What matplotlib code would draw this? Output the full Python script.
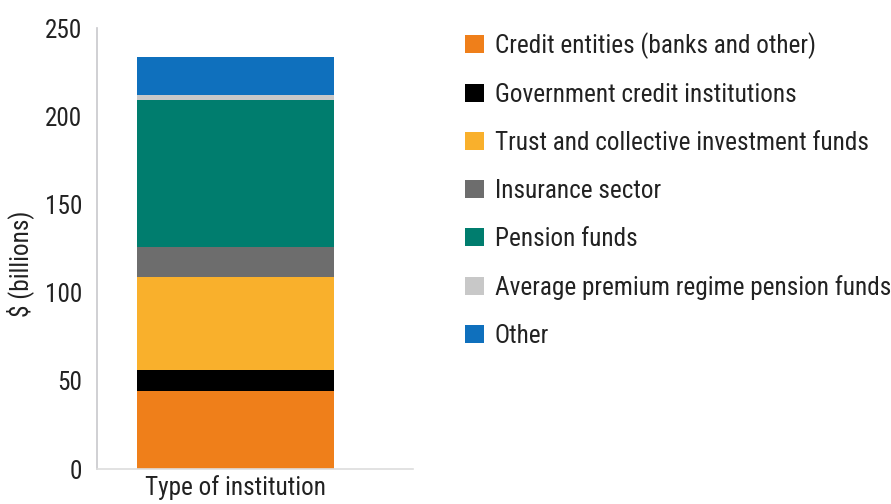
import matplotlib
matplotlib.use("Agg")
import matplotlib.pyplot as plt
from matplotlib import font_manager as fm
from matplotlib.patches import Patch

category = "Type of institution"
segments = [
    "Credit entities (banks and other)",
    "Government credit institutions",
    "Trust and collective investment funds",
    "Insurance sector",
    "Pension funds",
    "Average premium regime pension funds",
    "Other",
]
values = [44.4, 11.7, 52.6, 17.3, 83.2, 2.8, 21.7]
colors = ["#EF7F1A", "#000000", "#F9B02C", "#6D6D6D", "#007D6E", "#C8C8C8", "#0F70BD"]


def pick_font():
    # prefer a narrow sans face if one is installed
    cands = []
    for f in fm.fontManager.ttflist:
        narrow = ('Narrow' in f.name or 'Condensed' in f.name
                  or 'ondensed' in f.fname or f.stretch in ('condensed', 'semi-condensed'))
        if narrow and f.style == 'normal' and f.weight in (400, 'normal', 'regular'):
            cands.append(f)
    order = ['Liberation Sans Narrow', 'Roboto Condensed', 'Open Sans Condensed',
             'Noto Sans', 'DejaVu Sans']
    cands.sort(key=lambda f: next((i for i, n in enumerate(order) if n in f.name), 99))
    if cands:
        return fm.FontProperties(fname=cands[0].fname), True
    return fm.FontProperties(family='Liberation Sans'), False


base, is_narrow = pick_font()
size = 18.2 if is_narrow else 15


def fp(s=size):
    p = base.copy()
    p.set_size(s)
    return p


fig = plt.figure(figsize=(8.91, 5.04), dpi=100)
ax = fig.add_axes([0.1089, 0.0694, 0.3546, 0.875])

bottom = 0
for val, col in zip(values, colors):
    ax.bar(0, val, width=1.0, bottom=bottom, color=col, linewidth=0)
    bottom += val

ax.set_xlim(-0.703, 0.901)
ax.set_ylim(0, 250)
ax.set_yticks([0, 50, 100, 150, 200, 250])
ax.set_xticks([0])
ax.set_xticklabels([category])
ax.tick_params(axis='both', length=0, colors='#222222')
ax.tick_params(axis='y', pad=10.5)
ax.tick_params(axis='x', pad=4.5)
for lbl in ax.get_xticklabels() + ax.get_yticklabels():
    lbl.set_fontproperties(fp())
ax.set_ylabel("$ (billions)", fontproperties=fp(), color='#222222')
ax.yaxis.set_label_coords(-0.198, 0.465)

for side in ('top', 'right'):
    ax.spines[side].set_visible(False)
ax.spines['left'].set_color('#C8C8CC')
ax.spines['bottom'].set_color('#DDDDDD')
ax.spines['left'].set_linewidth(1.2)
ax.spines['bottom'].set_linewidth(1.2)

handles = [Patch(facecolor=c, edgecolor='none') for c in colors]
fig.legend(handles, segments, loc='upper left', bbox_to_anchor=(0.522, 0.937),
           frameon=False, prop=fp(), labelspacing=0.95, handlelength=0.75,
           handleheight=0.75, handletextpad=0.42, labelcolor='#222222',
           borderaxespad=0, borderpad=0)

fig.savefig("out.png", dpi=100)
